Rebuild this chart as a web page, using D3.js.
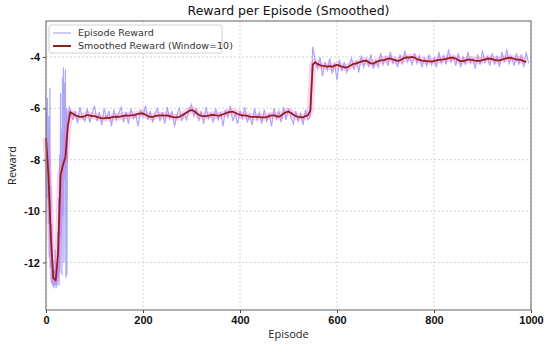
<!DOCTYPE html>
<html>
<head>
<meta charset="utf-8">
<script src="https://cdn.jsdelivr.net/npm/d3@7"></script>
<style>
  html, body { margin: 0; padding: 0; background: #fff; }
  svg { display: block; }
</style>
</head>
<body>
<div id="chart"></div>
<script>
// tick labels
const xTicks = [0, 200, 400, 600, 800, 1000];
const yTicks = [-12, -10, -8, -6, -4];

// raw episode reward, episodes 0..49 (every episode)
const earlyReward = [
  -7.0, -6.0, -9.5, -5.6, -8.8, -10.5, -6.3, -11.8, -5.2, -12.2,
  -9.0, -12.8, -10.5, -12.9, -11.9, -12.7, -13.0, -12.3, -12.9, -11.5,
  -12.8, -13.0, -12.2, -12.9, -10.8, -12.6, -9.5, -12.9, -7.8, -12.4,
  -5.4, -11.0, -6.8, -12.5, -4.8, -10.2, -4.4, -12.0, -5.0, -8.8,
  -4.5, -12.6, -6.0, -12.5, -7.5, -6.3, -6.1, -6.4, -5.9, -6.3
];

// raw episode reward, episodes 50..545 (every 5th episode)
const midReward = [
  -6.05, -6.45, -6.1, -6.6, -5.95, -6.35, -6.5, -6.0, -6.55, -6.2,
  -5.9, -6.5, -6.15, -6.65, -6.0, -6.4, -6.1, -6.7, -6.05, -6.45,
  -6.2, -5.95, -6.55, -6.15, -6.6, -6.0, -6.4, -6.25, -6.7, -6.05,
  -6.3, -5.9, -6.45, -6.1, -6.55, -6.2, -6.0, -6.5, -6.15, -6.6,
  -5.95, -6.4, -6.1, -6.7, -6.25, -6.0, -6.5, -6.2, -6.45, -6.05,
  -5.85, -6.3, -6.0, -6.5, -6.1, -6.6, -5.95, -6.4, -6.2, -6.55,
  -6.0, -6.45, -6.15, -6.7, -6.05, -6.35, -5.9, -6.5, -6.2, -6.6,
  -6.1, -6.4, -5.95, -6.55, -6.25, -6.65, -6.0, -6.45, -6.15, -6.6,
  -6.05, -6.5, -6.2, -6.7, -6.0, -6.4, -6.1, -6.55, -5.95, -6.45,
  -6.0, -6.35, -6.6, -6.1, -6.5, -6.2, -6.65, -6.05, -6.45, -6.3
];

// raw episode reward, episodes 550..995 (every 5th episode)
const lateReward = [
  -3.6, -4.15, -4.45, -4.0, -4.75, -4.2, -4.5, -4.05, -4.65, -4.25,
  -4.9, -4.1, -4.55, -4.2, -4.6, -4.35, -4.05, -4.5, -4.15, -4.6,
  -3.95, -4.4, -4.1, -4.35, -3.9, -4.45, -4.15, -4.4, -3.85, -4.3,
  -4.0, -4.35, -3.8, -4.25, -4.1, -4.4, -3.9, -4.3, -3.75, -4.2,
  -4.0, -4.3, -3.85, -4.25, -3.95, -4.4, -4.05, -4.35, -3.9, -4.3,
  -4.05, -4.4, -3.8, -4.25, -3.95, -4.3, -3.7, -4.2, -4.0, -4.35,
  -3.85, -4.4, -4.0, -4.3, -3.8, -4.25, -4.05, -4.45, -3.9, -4.3,
  -3.75, -4.2, -4.0, -4.35, -3.85, -4.3, -3.95, -4.4, -3.8, -4.2,
  -3.7, -4.25, -4.0, -4.35, -3.85, -4.3, -3.9, -4.4, -3.8, -4.25
];

// smoothed reward (window=10), episodes 0..990 (every 5th episode)
const smoothReward = [
  -7.15, -8.6, -11.0, -12.6, -12.7, -11.6, -8.6, -8.2, -7.9, -6.7,
  -6.15, -6.2, -6.27, -6.3, -6.33, -6.33, -6.3, -6.26, -6.27, -6.3,
  -6.3, -6.33, -6.36, -6.38, -6.39, -6.36, -6.38, -6.35, -6.33, -6.32,
  -6.33, -6.31, -6.29, -6.27, -6.28, -6.27, -6.26, -6.24, -6.22, -6.2,
  -6.2, -6.25, -6.3, -6.33, -6.33, -6.3, -6.28, -6.27, -6.27, -6.28,
  -6.27, -6.3, -6.33, -6.35, -6.35, -6.33, -6.28, -6.22, -6.16, -6.1,
  -6.07, -6.1, -6.18, -6.25, -6.29, -6.3, -6.3, -6.28, -6.26, -6.25,
  -6.27, -6.28, -6.27, -6.23, -6.2, -6.16, -6.14, -6.13, -6.17, -6.22,
  -6.25, -6.27, -6.27, -6.29, -6.32, -6.33, -6.33, -6.33, -6.34, -6.35,
  -6.35, -6.34, -6.3, -6.27, -6.27, -6.3, -6.33, -6.28, -6.2, -6.15,
  -6.13, -6.17, -6.25, -6.3, -6.33, -6.34, -6.35, -6.3, -6.27, -6.1,
  -4.3, -4.2, -4.28, -4.32, -4.35, -4.36, -4.38, -4.36, -4.38, -4.34,
  -4.31, -4.34, -4.38, -4.4, -4.41, -4.36, -4.31, -4.27, -4.25, -4.21,
  -4.18, -4.15, -4.14, -4.2, -4.25, -4.26, -4.2, -4.16, -4.13, -4.12,
  -4.1, -4.07, -4.06, -4.09, -4.12, -4.15, -4.13, -4.08, -4.03, -4.02,
  -4.02, -4.0, -4.03, -4.08, -4.11, -4.14, -4.15, -4.16, -4.17, -4.17,
  -4.16, -4.13, -4.11, -4.1, -4.09, -4.07, -4.05, -4.03, -4.03, -4.07,
  -4.12, -4.16, -4.16, -4.13, -4.1, -4.1, -4.12, -4.14, -4.15, -4.15,
  -4.12, -4.09, -4.07, -4.06, -4.08, -4.11, -4.13, -4.13, -4.1, -4.07,
  -4.05, -4.03, -4.04, -4.07, -4.1, -4.1, -4.12, -4.16, -4.2
];

const width = 550, height = 344;
const margin = { top: 21, right: 19, bottom: 34, left: 46 };
const innerW = width - margin.left - margin.right;
const innerH = height - margin.top - margin.bottom;

const rawData = [
  ...earlyReward.map((v, i) => ({ ep: i, v })),
  ...midReward.map((v, i) => ({ ep: 50 + i * 5, v })),
  ...lateReward.map((v, i) => ({ ep: 550 + i * 5, v }))
];
const smoothData = smoothReward.map((v, i) => ({ ep: i * 5, v }));

const svg = d3.select('#chart')
  .append('svg')
  .attr('width', width)
  .attr('height', height);

const g = svg.append('g')
  .attr('transform', `translate(${margin.left},${margin.top})`);

const x = d3.scaleLinear().domain([0, 1000]).range([0, innerW]);
const y = d3.scaleLinear().domain([-13.85, -2.6]).range([innerH, 0]);

// grid
g.append('g')
  .selectAll('line')
  .data(xTicks)
  .enter()
  .append('line')
  .attr('x1', d => x(d)).attr('x2', d => x(d))
  .attr('y1', 0).attr('y2', innerH)
  .attr('stroke', '#d4d4d4')
  .attr('stroke-dasharray', '2,2');

g.append('g')
  .selectAll('line')
  .data(yTicks)
  .enter()
  .append('line')
  .attr('x1', 0).attr('x2', innerW)
  .attr('y1', d => y(d)).attr('y2', d => y(d))
  .attr('stroke', '#d4d4d4')
  .attr('stroke-dasharray', '2,2');

const line = d3.line()
  .x(d => x(d.ep))
  .y(d => y(d.v));

// raw
g.append('path')
  .datum(rawData)
  .attr('fill', 'none')
  .attr('stroke', '#8c8cf5')
  .attr('stroke-opacity', 0.75)
  .attr('stroke-width', 1.2)
  .attr('d', line);

// pink halo under smoothed line
g.append('path')
  .datum(smoothData)
  .attr('fill', 'none')
  .attr('stroke', '#ff66d6')
  .attr('stroke-opacity', 0.3)
  .attr('stroke-width', 7)
  .attr('stroke-linejoin', 'round')
  .attr('d', line);

g.append('path')
  .datum(smoothData)
  .attr('fill', 'none')
  .attr('stroke', '#8f2218')
  .attr('stroke-width', 1.8)
  .attr('stroke-linejoin', 'round')
  .attr('d', line);

// axes
const tickFont = 'bold 11px "Liberation Sans", Arial, sans-serif';

const xAxis = g.append('g')
  .attr('transform', `translate(0,${innerH})`)
  .call(d3.axisBottom(x).tickValues(xTicks).tickSize(3).tickPadding(3).tickFormat(d => String(d)));

const yAxis = g.append('g')
  .call(d3.axisLeft(y).tickValues(yTicks).tickSize(3).tickPadding(3).tickFormat(d => String(d)));

[xAxis, yAxis].forEach(a => {
  a.select('.domain').remove();
  a.selectAll('.tick line').attr('stroke', '#444');
  a.selectAll('.tick text')
    .attr('fill', '#111')
    .style('font', tickFont);
});

// frame
g.append('rect')
  .attr('width', innerW)
  .attr('height', innerH)
  .attr('fill', 'none')
  .attr('stroke', '#7a7a7a')
  .attr('stroke-width', 1.2);

// title and labels
svg.append('text')
  .attr('x', margin.left + innerW / 2)
  .attr('y', 15)
  .attr('text-anchor', 'middle')
  .style('font', '12.5px "DejaVu Sans", sans-serif')
  .attr('fill', '#111')
  .text('Reward per Episode (Smoothed)');

svg.append('text')
  .attr('x', margin.left + innerW / 2)
  .attr('y', 338)
  .attr('text-anchor', 'middle')
  .style('font', '11px "Open Sans", sans-serif')
  .attr('fill', '#222')
  .text('Episode');

svg.append('text')
  .attr('transform', `translate(16,${margin.top + innerH / 2}) rotate(-90)`)
  .attr('text-anchor', 'middle')
  .style('font', '11px "Open Sans", sans-serif')
  .attr('fill', '#222')
  .text('Reward');

// legend
const legend = g.append('g').attr('transform', 'translate(3,4)');
legend.append('rect')
  .attr('width', 173)
  .attr('height', 28)
  .attr('rx', 2)
  .attr('fill', '#fff')
  .attr('fill-opacity', 0.85)
  .attr('stroke', '#d0d0d0');

const legendItems = [
  { label: 'Episode Reward', color: '#8c8cf5', opacity: 0.6, w: 1.5 },
  { label: 'Smoothed Reward (Window=10)', color: '#8f2218', opacity: 1, w: 2 }
];

const item = legend.selectAll('.item')
  .data(legendItems)
  .enter()
  .append('g')
  .attr('transform', (d, i) => `translate(0,${8 + i * 13})`);

item.append('line')
  .attr('x1', 4).attr('x2', 22)
  .attr('stroke', d => d.color)
  .attr('stroke-opacity', d => d.opacity)
  .attr('stroke-width', d => d.w);

item.append('text')
  .attr('x', 29)
  .attr('dy', '0.35em')
  .style('font', '9.5px "DejaVu Sans", sans-serif')
  .attr('fill', '#333')
  .text(d => d.label);
</script>
</body>
</html>
